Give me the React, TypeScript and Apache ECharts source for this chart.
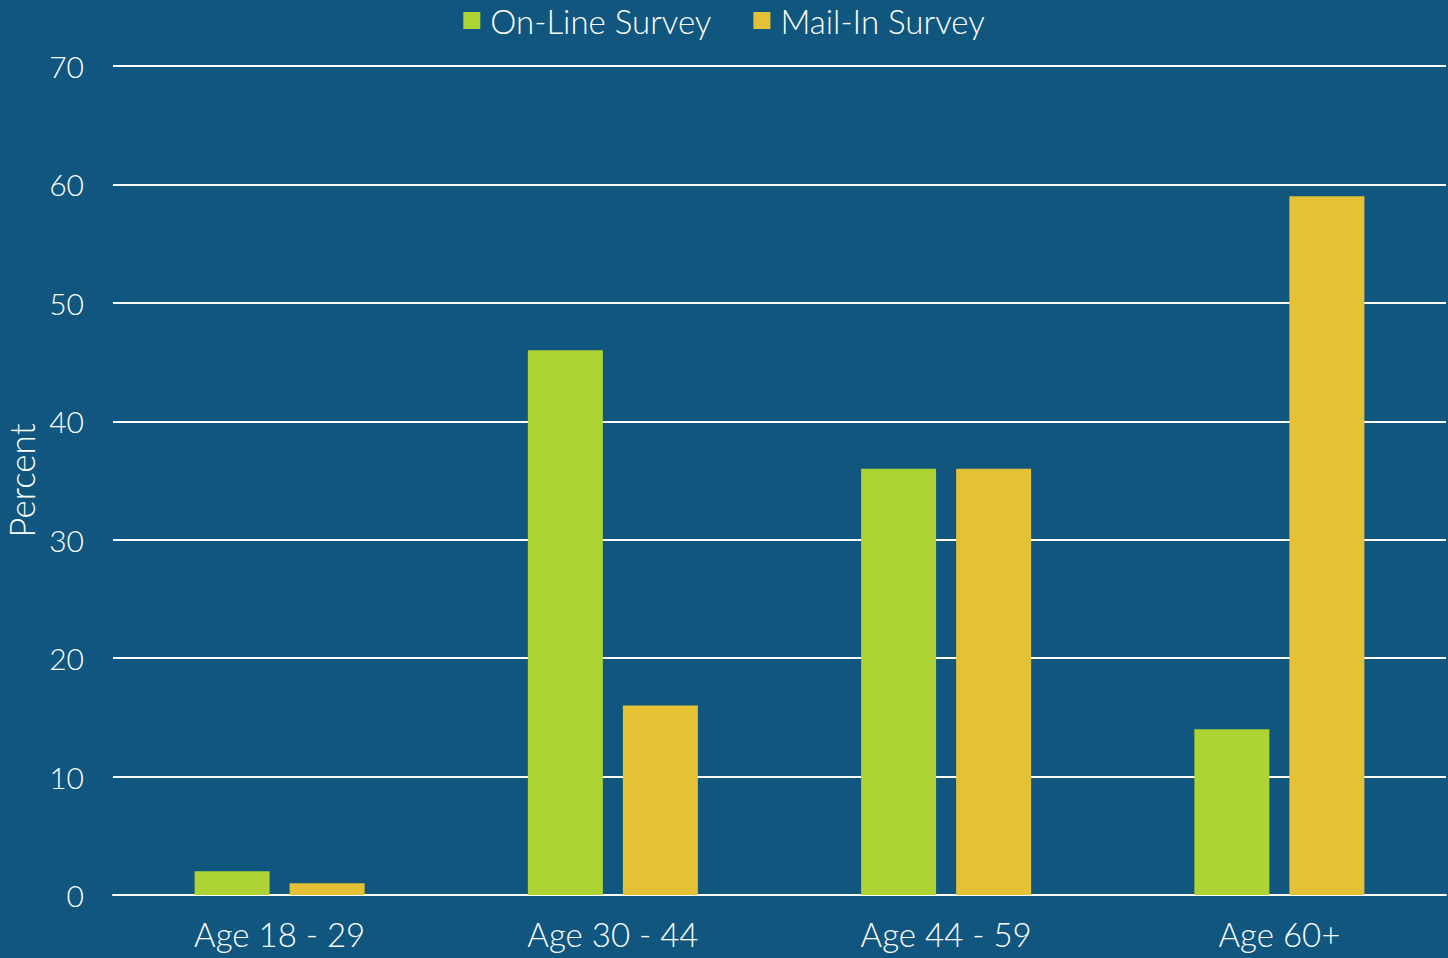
import React, { useEffect, useRef } from "react";
import * as echarts from "echarts";

const categories = ["Age 18 - 29", "Age 30 - 44", "Age 44 - 59", "Age 60+"];
const onlineValues = [2, 46, 36, 14];
const mailValues = [1, 16, 36, 59];
const seriesNames = ["On-Line Survey", "Mail-In Survey"];

export default function App() {
  const ref = useRef<HTMLDivElement>(null);
  useEffect(() => {
    if (!ref.current) return;
    const chart = echarts.init(ref.current, undefined, { renderer: "svg" });
    const font = "Lato, 'Open Sans', sans-serif";
    chart.setOption({
      animation: false,
      backgroundColor: "#10567E",
      textStyle: { fontFamily: font, color: "#fff" },
      legend: {
        top: -1,
        left: "center",
        itemWidth: 17,
        itemHeight: 17,
        itemGap: 42,
        icon: "rect",
        textStyle: { color: "#fff", fontSize: 33, fontFamily: font, fontWeight: 300, padding: [0, 0, 0, 5] },
        data: seriesNames,
      },
      grid: { left: 113, right: 2, top: 66, bottom: 63, containLabel: false, outerBoundsMode: "none" },
      xAxis: {
        type: "category",
        data: categories,
        axisLine: { show: true, lineStyle: { color: "#fff", width: 2 } },
        axisTick: { show: false },
        axisLabel: { color: "#fff", fontSize: 33, margin: 22, fontFamily: font, fontWeight: 300 },
      },
      yAxis: {
        type: "value",
        min: 0,
        max: 70,
        interval: 10,
        name: "Percent",
        nameLocation: "middle",
        nameGap: 74,
        nameRotate: 90,
        nameTextStyle: { color: "#fff", fontSize: 35, fontFamily: font, fontWeight: 300 },
        axisLine: { show: false },
        axisTick: { show: false },
        axisLabel: { color: "#fff", fontSize: 30, margin: 29, fontFamily: font, fontWeight: 300 },
        splitLine: { lineStyle: { color: "#fff", width: 2 } },
      },
      series: [
        {
          name: seriesNames[0],
          type: "bar",
          data: onlineValues,
          itemStyle: { color: "#ADD335" },
          barWidth: 75,
          barGap: "26.7%",
        },
        {
          name: seriesNames[1],
          type: "bar",
          data: mailValues,
          itemStyle: { color: "#E5C136" },
          barWidth: 75,
          barGap: "26.7%",
        },
      ],
    });
    return () => chart.dispose();
  }, []);
  return (
    <div
      ref={ref}
      style={{ position: "fixed", left: 0, top: 0, width: 1448, height: 958 }}
    />
  );
}
